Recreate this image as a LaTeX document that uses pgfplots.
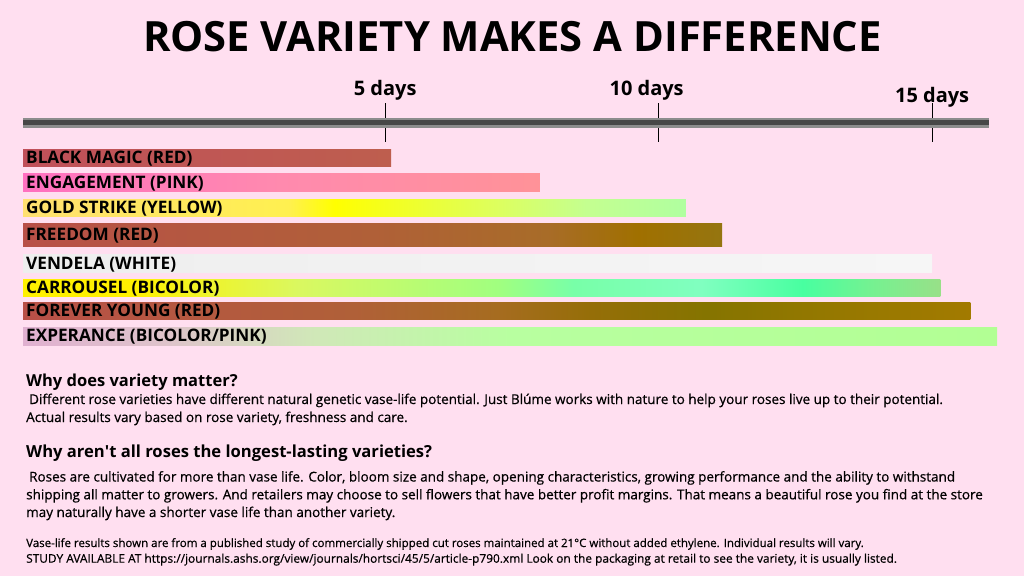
\documentclass[border=0pt]{standalone}
\usepackage{fontspec}
\setmainfont{Open Sans}
\newfontfamily\osmed{Open Sans}[FakeBold=0.6]
\usepackage{pgfplots}
\pgfplotsset{compat=1.18}
\definecolor{bg}{HTML}{FFDFF0}
\definecolor{bm0}{HTML}{C0505A}\definecolor{bm1}{HTML}{BE5E4E}
\definecolor{en0}{HTML}{FF70C0}\definecolor{en1}{HTML}{FF8AAE}\definecolor{en2}{HTML}{FF9298}
\definecolor{gs0}{HTML}{FFE070}\definecolor{gs1}{HTML}{FFF050}\definecolor{gs2}{HTML}{FFFF00}
\definecolor{gs3}{HTML}{DCFF60}\definecolor{gs4}{HTML}{C4FF90}\definecolor{gs5}{HTML}{B0FFA0}
\definecolor{fr0}{HTML}{B85048}\definecolor{fr1}{HTML}{B06038}\definecolor{fr2}{HTML}{A86C28}
\definecolor{fr3}{HTML}{A07000}\definecolor{fr4}{HTML}{957510}
\definecolor{ve0}{HTML}{EEEEEE}\definecolor{ve1}{HTML}{F6F6F6}
\definecolor{ca0}{HTML}{FFF000}\definecolor{ca1}{HTML}{DAF860}\definecolor{ca2}{HTML}{A0FF80}
\definecolor{ca3}{HTML}{78FFA8}\definecolor{ca4}{HTML}{80FFC0}\definecolor{ca5}{HTML}{48FFA0}
\definecolor{ca6}{HTML}{78F090}\definecolor{ca7}{HTML}{98E088}
\definecolor{fy0}{HTML}{B85048}\definecolor{fy1}{HTML}{B06038}\definecolor{fy2}{HTML}{A66C20}
\definecolor{fy3}{HTML}{956E08}\definecolor{fy4}{HTML}{857400}\definecolor{fy5}{HTML}{957800}
\definecolor{fy6}{HTML}{A27A00}
\definecolor{ex0}{HTML}{E0B0D0}\definecolor{ex1}{HTML}{DEC4CA}\definecolor{ex2}{HTML}{D0E8B8}
\definecolor{ex3}{HTML}{B8FFA0}\definecolor{ex4}{HTML}{B2FF94}
% horizontal shadings: 25bp = left edge of bar, 75bp = right edge
\pgfdeclarehorizontalshading{shBM}{100bp}{color(0bp)=(bm0); color(25bp)=(bm0); color(75bp)=(bm1); color(100bp)=(bm1)}
\pgfdeclarehorizontalshading{shEN}{100bp}{color(0bp)=(en0); color(25bp)=(en0); color(50bp)=(en1); color(75bp)=(en2); color(100bp)=(en2)}
\pgfdeclarehorizontalshading{shGS}{100bp}{color(0bp)=(gs0); color(25bp)=(gs0); color(45bp)=(gs1); color(48.5bp)=(gs2); color(61bp)=(gs3); color(67.5bp)=(gs4); color(75bp)=(gs5); color(100bp)=(gs5)}
\pgfdeclarehorizontalshading{shFR}{100bp}{color(0bp)=(fr0); color(25bp)=(fr0); color(50bp)=(fr1); color(62.5bp)=(fr2); color(69bp)=(fr3); color(75bp)=(fr4); color(100bp)=(fr4)}
\pgfdeclarehorizontalshading{shVE}{100bp}{color(0bp)=(ve0); color(25bp)=(ve0); color(75bp)=(ve1); color(100bp)=(ve1)}
\pgfdeclarehorizontalshading{shCA}{100bp}{color(0bp)=(ca0); color(25bp)=(ca0); color(31bp)=(ca0); color(40bp)=(ca1); color(51bp)=(ca2); color(55bp)=(ca3); color(62bp)=(ca4); color(67.5bp)=(ca5); color(71.5bp)=(ca6); color(75bp)=(ca7); color(100bp)=(ca7)}
\pgfdeclarehorizontalshading{shFY}{100bp}{color(0bp)=(fy0); color(25bp)=(fy0); color(42.5bp)=(fy1); color(50bp)=(fy2); color(55bp)=(fy3); color(61bp)=(fy4); color(67.5bp)=(fy5); color(75bp)=(fy6); color(100bp)=(fy6)}
\pgfdeclarehorizontalshading{shEX}{100bp}{color(0bp)=(ex0); color(25bp)=(ex0); color(32.5bp)=(ex1); color(40bp)=(ex2); color(50bp)=(ex3); color(75bp)=(ex4); color(100bp)=(ex4)}
% a bar: shading, end (days), top and bottom (axis units)
\newcommand{\rosebar}[4]{\addplot[draw=none, shade, shading=#1] coordinates {(-1.62,#3) (#2,#3) (#2,#4) (-1.62,#4)} -- cycle;}
\newcommand{\roselabel}[2]{\node[anchor=base west, inner sep=0pt, xshift=3pt, font=\fontsize{17.2}{17}\selectfont\bfseries] at (axis cs:-1.62,#1) {#2};}
\newcommand{\txt}[3]{\node[anchor=base west, inner sep=0pt, font=#1] at (26,{576-#2}) {#3};}
\newcommand{\apos}{\XeTeXglyph\XeTeXglyphindex "quotesingle" }
\begin{document}
\begin{tikzpicture}[x=1pt,y=1pt]
\fill[bg] (0,0) rectangle (1024,576);
\useasboundingbox (0,0) rectangle (1024,576);
\node[anchor=base, inner sep=0pt, font=\fontsize{41.7}{44}\selectfont\bfseries] at (512.5,{576-52}) {ROSE VARIETY MAKES A DIFFERENCE};
\begin{axis}[
  at={(23pt,{576pt-350pt})}, anchor=south west,
  scale only axis, width=966pt, height=227pt,
  xmin=-1.62, xmax=16.04, ymin=-350, ymax=-123,
  axis x line*=top, axis y line=none,
  x axis line style={-, line width=10pt, draw=black!45, postaction={draw=black!72, line width=5pt}},
  xtick={5,10,15},
  xticklabels={5 days, \makebox[0pt]{\hspace*{-24pt}10 days}, \raisebox{-7pt}{15 days}},
  xticklabel pos=upper,
  tick align=center, major tick length=39pt,
  xtick style={black, line width=1.1pt},
  xticklabel style={font=\fontsize{20}{20}\selectfont\bfseries, anchor=base, yshift=8pt},
  clip=false,
]
\rosebar{shBM}{5.11}{-150}{-167}
\rosebar{shEN}{7.83}{-174}{-192}
\rosebar{shGS}{10.50}{-200}{-217}
\rosebar{shFR}{11.16}{-224}{-247}
\rosebar{shVE}{15.00}{-255}{-273}
\rosebar{shCA}{15.15}{-280}{-297}
\rosebar{shFY}{15.70}{-303}{-320}
\rosebar{shEX}{16.19}{-328}{-345}
\roselabel{-163.8}{BLACK MAGIC (RED)}
\roselabel{-188.3}{ENGAGEMENT (PINK)}
\roselabel{-213.8}{GOLD STRIKE (YELLOW)}
\roselabel{-240.8}{FREEDOM (RED)}
\roselabel{-269.3}{VENDELA (WHITE)}
\roselabel{-293.8}{CARROUSEL (BICOLOR)}
\roselabel{-316.8}{FOREVER YOUNG (RED)}
\roselabel{-341.8}{EXPERANCE (BICOLOR/PINK)}
\end{axis}
\txt{\fontsize{16.5}{16}\selectfont\bfseries}{386}{Why does variety matter?}
\txt{\fontsize{13.5}{13}\selectfont\osmed}{404}{\hspace*{3pt}Different rose varieties have different natural genetic vase-life potential. Just Blúme works with nature to help your roses live up to their potential.}
\txt{\fontsize{13.5}{13}\selectfont\osmed}{422}{Actual results vary based on rose variety, freshness and care.}
\txt{\fontsize{16.6}{16}\selectfont\bfseries}{457}{Why aren\apos t all roses the longest-lasting varieties?}
\txt{\fontsize{13.5}{13}\selectfont\osmed}{481.5}{\hspace*{3pt}Roses are cultivated for more than vase life. Color, bloom size and shape, opening characteristics, growing performance and the ability to withstand}
\txt{\fontsize{13.5}{13}\selectfont\osmed}{499.3}{shipping all matter to growers. And retailers may choose to sell flowers that have better profit margins. That means a beautiful rose you find at the store}
\txt{\fontsize{13.5}{13}\selectfont\osmed}{517}{may naturally have a shorter vase life than another variety.}
\txt{\fontsize{11.5}{11}\selectfont\osmed}{547}{Vase-life results shown are from a published study of commercially shipped cut roses maintained at 21°C without added ethylene. Individual results will vary.}
\txt{\fontsize{11.9}{11}\selectfont\osmed}{562.7}{STUDY AVAILABLE AT https://journals.ashs.org/view/journals/hortsci/45/5/article-p790.xml Look on the packaging at retail to see the variety, it is usually listed.}
\end{tikzpicture}
\end{document}
